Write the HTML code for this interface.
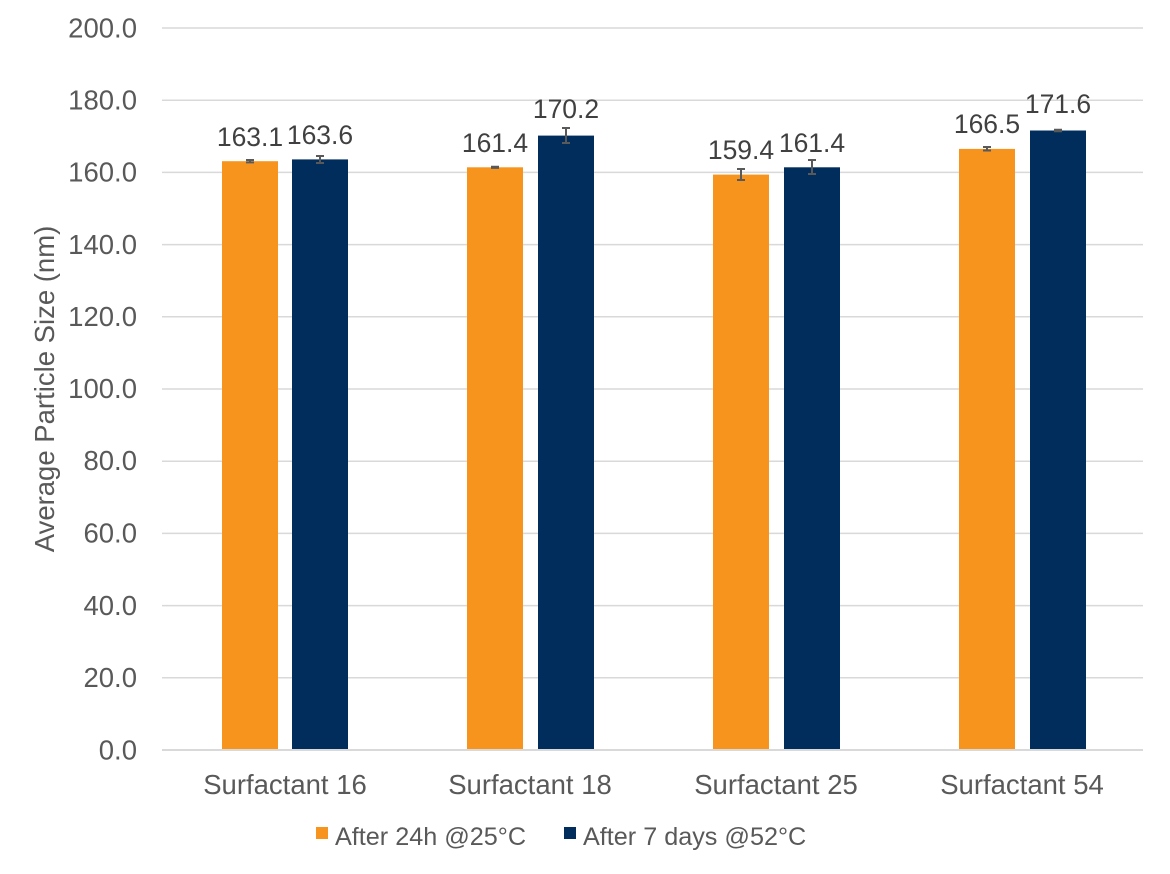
<!DOCTYPE html>
<html><head><meta charset="utf-8"><style>
html,body{margin:0;padding:0;background:#fff;}
svg{display:block;font-family:"Liberation Sans",Arial,sans-serif;}
</style></head><body>
<svg width="1170" height="874" viewBox="0 0 1170 874">
<g stroke="#d9d9d9" stroke-width="1.5">
<line x1="162" x2="1143" y1="28" y2="28"/>
<line x1="162" x2="1143" y1="100.2" y2="100.2"/>
<line x1="162" x2="1143" y1="172.4" y2="172.4"/>
<line x1="162" x2="1143" y1="244.6" y2="244.6"/>
<line x1="162" x2="1143" y1="316.8" y2="316.8"/>
<line x1="162" x2="1143" y1="389" y2="389"/>
<line x1="162" x2="1143" y1="461.2" y2="461.2"/>
<line x1="162" x2="1143" y1="533.4" y2="533.4"/>
<line x1="162" x2="1143" y1="605.6" y2="605.6"/>
<line x1="162" x2="1143" y1="677.8" y2="677.8"/>
</g>
<g fill="#595959" font-size="27.5" text-anchor="end">
<text x="137" y="37.5">200.0</text>
<text x="137" y="109.5">180.0</text>
<text x="137" y="181.5">160.0</text>
<text x="137" y="254">140.0</text>
<text x="137" y="326">120.0</text>
<text x="137" y="398">100.0</text>
<text x="137" y="470">80.0</text>
<text x="137" y="542.5">60.0</text>
<text x="137" y="615">40.0</text>
<text x="137" y="687">20.0</text>
<text x="137" y="759.5">0.0</text>
</g>
<text transform="translate(54,389) rotate(-90)" text-anchor="middle" fill="#595959" font-size="27.5">Average Particle Size (nm)</text>
<g fill="#f7941d">
<rect x="222" y="161.2" width="56" height="588.8"/>
<rect x="467" y="167.3" width="56" height="582.7"/>
<rect x="713" y="174.6" width="56" height="575.4"/>
<rect x="959" y="148.9" width="56" height="601.1"/>
</g>
<g fill="#002d5c">
<rect x="292" y="159.4" width="56" height="590.6"/>
<rect x="538" y="135.6" width="56" height="614.4"/>
<rect x="784" y="167.3" width="56" height="582.7"/>
<rect x="1030" y="130.5" width="56" height="619.5"/>
</g>
<line x1="162" x2="1143" y1="750" y2="750" stroke="#d9d9d9" stroke-width="2"/>
<g stroke="#595959" stroke-width="2" fill="none">
<path d="M246 160h8M250 160v2.4M246 162.4h8"/>
<path d="M316 156h8M320 156v7M316 163h8"/>
<path d="M491 166.7h8M491 167.9h8"/>
<path d="M562 128h8M566 128v15M562 143h8"/>
<path d="M737 169h8M741 169v11M737 180h8"/>
<path d="M808 160h8M812 160v14M808 174h8"/>
<path d="M983 147h8M987 147v3.5M983 150.5h8"/>
<path d="M1054 129.8h8M1054 131.2h8"/>
</g>
<g fill="#404040" font-size="26.5" text-anchor="middle">
<text x="250" y="146">163.1</text>
<text x="320" y="144">163.6</text>
<text x="495" y="152">161.4</text>
<text x="566" y="118">170.2</text>
<text x="741" y="159">159.4</text>
<text x="812" y="152">161.4</text>
<text x="987" y="133">166.5</text>
<text x="1058" y="113">171.6</text>
</g>
<g fill="#595959" font-size="27.5" text-anchor="middle">
<text x="285" y="794">Surfactant 16</text>
<text x="530" y="794">Surfactant 18</text>
<text x="776" y="794">Surfactant 25</text>
<text x="1022" y="794">Surfactant 54</text>
</g>
<rect x="316" y="827" width="12" height="12" fill="#f7941d"/>
<text x="335" y="845" fill="#595959" font-size="25.2">After 24h @25°C</text>
<rect x="564" y="827" width="12" height="12" fill="#002d5c"/>
<text x="583" y="845" fill="#595959" font-size="25.2">After 7 days @52°C</text>
</svg>
</body></html>
